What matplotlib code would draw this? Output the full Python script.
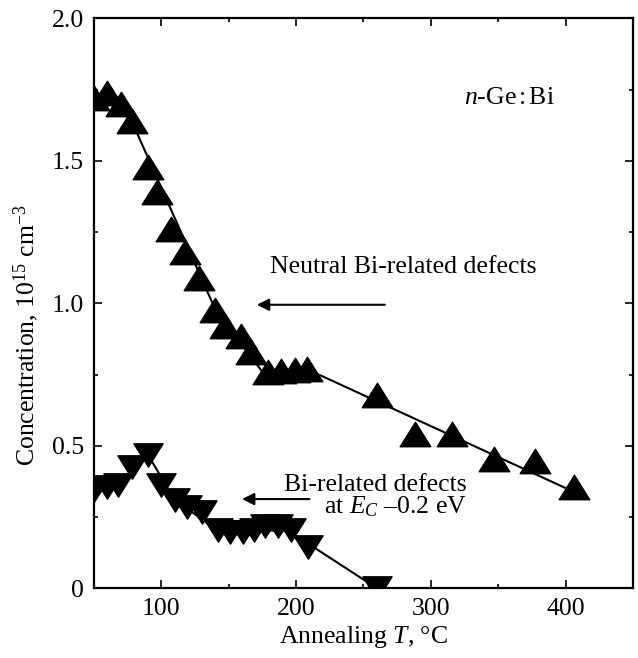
import matplotlib
matplotlib.use("Agg")
import matplotlib.pyplot as plt
from matplotlib.path import Path
from matplotlib.ticker import MultipleLocator, FixedLocator, FixedFormatter

plt.rcParams['font.family'] = ['Liberation Serif', 'DejaVu Serif']
plt.rcParams['mathtext.fontset'] = 'custom'
plt.rcParams['mathtext.rm'] = 'Liberation Serif'
plt.rcParams['mathtext.it'] = 'Liberation Serif:italic'

# Neutral Bi-related defects (up triangles)
neutral_T = [50, 60, 70, 78, 90, 97, 107, 118, 128, 140, 147, 159, 167, 179, 189, 199, 208, 260, 288, 316, 347, 377, 406]
neutral_c = [1.72, 1.74, 1.70, 1.64, 1.48, 1.39, 1.26, 1.18, 1.09, 0.975, 0.92, 0.887, 0.83, 0.76, 0.764, 0.767, 0.768, 0.678, 0.541, 0.543, 0.452, 0.446, 0.354]
neutral_fit_T = [50, 70, 80, 140, 175, 210, 410]
neutral_fit_c = [1.74, 1.71, 1.62, 0.98, 0.76, 0.765, 0.33]

# Bi-related defects at Ec-0.2 eV (down triangles)
ec_T = [50, 60, 68, 78, 90, 100, 110, 119, 130, 142, 151, 161, 169, 177, 187, 196, 209, 260]
ec_c = [0.346, 0.357, 0.361, 0.425, 0.468, 0.362, 0.308, 0.285, 0.267, 0.203, 0.197, 0.199, 0.205, 0.22, 0.22, 0.205, 0.145, 0.0]
ec_fit_T = [50, 75, 90, 110, 140, 195, 260]
ec_fit_c = [0.33, 0.39, 0.47, 0.31, 0.21, 0.20, 0.0]

FS = 18.5

fig = plt.figure(figsize=(6.38, 6.58), dpi=100)
ax = fig.add_axes([0.147, 0.106, 0.845, 0.866])

up = Path([(0, 0.8), (-1, -0.8), (1, -0.8), (0, 0.8)], [1, 2, 2, 79])
down = Path([(0, -0.8), (-1, 0.8), (1, 0.8), (0, -0.8)], [1, 2, 2, 79])

ax.plot(neutral_fit_T, neutral_fit_c, color='black', lw=1.5, zorder=2)
ax.plot(ec_fit_T, ec_fit_c, color='black', lw=1.5, zorder=2)
ax.plot(neutral_T, neutral_c, linestyle='none', marker=up, markersize=22,
        color='black', zorder=3)
ax.plot(ec_T, ec_c, linestyle='none', marker=down, markersize=21,
        color='black', zorder=3)

ax.set_xlim(50, 450)
ax.set_ylim(0, 2.0)
ax.xaxis.set_major_locator(FixedLocator([100, 200, 300, 400]))
ax.xaxis.set_minor_locator(MultipleLocator(50))
ax.yaxis.set_major_locator(FixedLocator([0, 0.5, 1.0, 1.5, 2.0]))
ax.yaxis.set_major_formatter(FixedFormatter(['0', '0.5', '1.0', '1.5', '2.0']))
ax.yaxis.set_minor_locator(MultipleLocator(0.25))
ax.tick_params(which='both', direction='in', top=True, right=True, labelsize=FS, width=1.2)
ax.tick_params(which='major', length=6, pad=7)
ax.tick_params(which='minor', length=3)
for s in ax.spines.values():
    s.set_linewidth(1.6)

ax.set_xlabel('Annealing $\\it{T}$, °C', fontsize=FS, labelpad=3)
ax.set_ylabel('Concentration, 10$^{15}$ cm$^{-3}$', fontsize=FS, labelpad=8)
ax.yaxis.set_label_coords(-0.098, 0.445)

ax.text(325, 1.70, '$\\it{n}$-Ge$\\,$:$\\,$Bi', fontsize=FS, ha='left', va='baseline')
ax.text(181, 1.105, 'Neutral Bi-related defects', fontsize=FS, ha='left', va='baseline')
ax.annotate('', xy=(171, 0.995), xytext=(266, 0.995),
            arrowprops=dict(arrowstyle='-|>', color='black', lw=1.5,
                            mutation_scale=18, shrinkA=0, shrinkB=0))
ax.text(191, 0.34, 'Bi-related defects', fontsize=FS, ha='left', va='baseline')
ax.text(221, 0.262, 'at $\\it{E}_{\\it{C}}$ –0.2 eV', fontsize=FS, ha='left', va='baseline')
ax.annotate('', xy=(160, 0.313), xytext=(210, 0.313),
            arrowprops=dict(arrowstyle='-|>', color='black', lw=1.5,
                            mutation_scale=18, shrinkA=0, shrinkB=0))

fig.savefig('out.png', dpi=100)
